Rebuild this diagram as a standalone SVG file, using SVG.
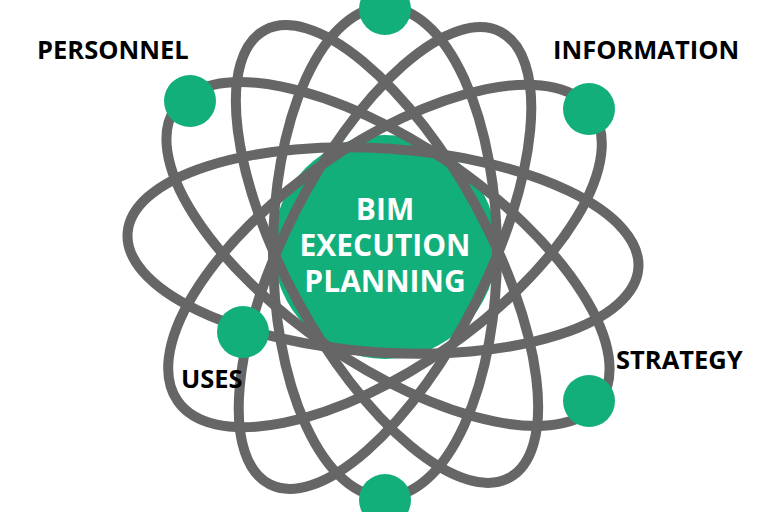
<svg xmlns="http://www.w3.org/2000/svg" width="768" height="512" viewBox="0 0 768 512">
<style>
.orbit{fill:none;stroke:#666666;stroke-width:10}
.dot{fill:#13AF7A}
.lbl{font-family:"Open Sans","Liberation Sans",sans-serif;font-weight:bold;font-size:25.5px;fill:#000}
.core{font-family:"Open Sans","Liberation Sans",sans-serif;font-weight:bold;font-size:30px;fill:#fff;text-anchor:middle}
</style>
<rect width="768" height="512" fill="#fff"/>
<g id="core-circle"><circle cx="385" cy="247" r="112" class="dot"/></g>
<g id="orbits">
<ellipse class="orbit" cx="383" cy="250.5" rx="256" ry="102" transform="rotate(3.9 383 250.5)"/>
<ellipse class="orbit" cx="388" cy="254" rx="258" ry="110" transform="rotate(34.5 388 254)"/>
<ellipse class="orbit" cx="385" cy="256" rx="253" ry="111" transform="rotate(-35 385 256)"/>
<ellipse class="orbit" cx="385" cy="252" rx="112" ry="245"/>
<ellipse class="orbit" cx="387" cy="254" rx="255" ry="101" transform="rotate(61.3 387 254)"/>
<ellipse class="orbit" cx="385" cy="258" rx="254" ry="101" transform="rotate(-63 385 258)"/>
</g>
<g id="node-top"><circle cx="385" cy="9" r="26" class="dot"/></g>
<g id="node-bottom"><circle cx="385" cy="500" r="26" class="dot"/></g>
<g id="node-personnel"><circle cx="190" cy="101" r="26" class="dot"/><text class="lbl" x="37" y="59">PERSONNEL</text></g>
<g id="node-information"><circle cx="589" cy="109" r="26" class="dot"/><text class="lbl" x="553" y="59">INFORMATION</text></g>
<g id="node-strategy"><circle cx="589" cy="401" r="26" class="dot"/><text class="lbl" x="616" y="369">STRATEGY</text></g>
<g id="node-uses"><circle cx="243" cy="332" r="26" class="dot"/><text class="lbl" x="181" y="388">USES</text></g>
<g id="center-label">
<text class="core" x="385" y="220">BIM</text>
<text class="core" x="385" y="256">EXECUTION</text>
<text class="core" x="385" y="292">PLANNING</text>
</g>
</svg>
